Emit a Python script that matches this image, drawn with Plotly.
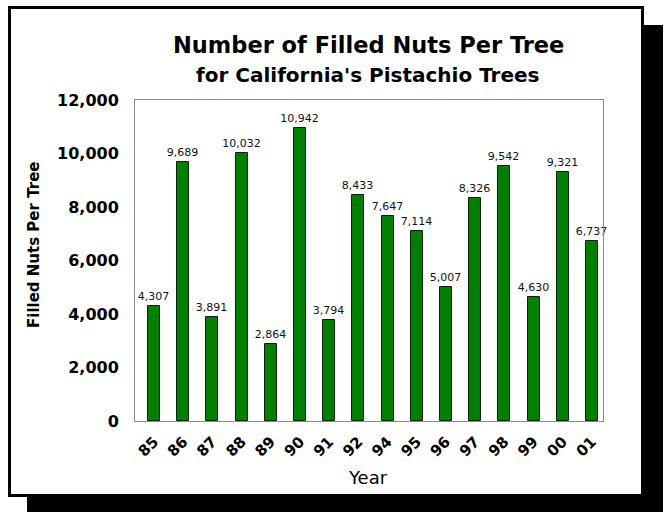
import plotly.graph_objects as go

years = ["85", "86", "87", "88", "89", "90", "91", "92", "94", "95", "96", "97", "98", "99", "00", "01"]
nuts = [4307, 9689, 3891, 10032, 2864, 10942, 3794, 8433, 7647, 7114, 5007, 8326, 9542, 4630, 9321, 6737]
y_ticks = [0, 2000, 4000, 6000, 8000, 10000, 12000]

W, H = 671, 512
L, R, T, B = 135, 603, 100, 421


def px(x):
    return (x - L) / (R - L)


def py(y):
    return (B - y) / (B - T)


pos = list(range(len(years)))

fig = go.Figure()
fig.add_trace(go.Bar(
    x=pos, y=nuts, width=0.41,
    marker=dict(color="#008000", line=dict(color="#0a200a", width=1)),
    texttemplate="%{y:,}", textposition="outside", cliponaxis=False,
    constraintext="none",
    textfont=dict(family="DejaVu Sans", size=11, color="#111"),
    hoverinfo="skip",
))

shapes = [
    dict(type="rect", xref="paper", yref="paper", layer="below",
         x0=px(27), x1=px(663), y0=py(25), y1=py(512),
         fillcolor="black", line=dict(width=0)),
    dict(type="rect", xref="paper", yref="paper", layer="below",
         x0=px(9.5), x1=px(642.5), y0=py(7.5), y1=py(495.5),
         fillcolor="white", line=dict(color="black", width=3)),
]

annotations = [
    dict(text="<b>Number of Filled Nuts Per Tree</b>", xref="paper", yref="paper",
         x=px(368), y=py(45), showarrow=False, xanchor="center", yanchor="middle",
         font=dict(family="DejaVu Sans", size=22.5, color="black")),
    dict(text="<b>for California's Pistachio Trees</b>", xref="paper", yref="paper",
         x=px(368), y=py(75), showarrow=False, xanchor="center", yanchor="middle",
         font=dict(family="DejaVu Sans", size=20, color="black")),
    dict(text="<b>Filled Nuts Per Tree</b>", xref="paper", yref="paper",
         x=px(34), y=py(245), showarrow=False, textangle=-90,
         xanchor="center", yanchor="middle",
         font=dict(family="DejaVu Sans", size=15, color="black")),
    dict(text="Year", xref="paper", yref="paper",
         x=px(368), y=py(478), showarrow=False, xanchor="center", yanchor="middle",
         font=dict(family="DejaVu Sans", size=18, color="black")),
]

fig.update_layout(
    width=W, height=H,
    margin=dict(l=L, r=W - R, t=T, b=H - B, pad=0),
    paper_bgcolor="white", plot_bgcolor="white",
    showlegend=False, shapes=shapes, annotations=annotations,
    bargap=0,
)
fig.update_xaxes(
    range=[-0.652, 15.38], tickvals=pos, ticktext=years, tickangle=-45,
    showgrid=False, zeroline=False, showline=True, mirror=True,
    linecolor="#8a8a8a", linewidth=1, ticks="",
    tickfont=dict(family="DejaVu Sans", size=15, color="black", weight="bold"),
    ticklabelstandoff=5, ticklabelshift=0,
)
fig.update_yaxes(
    range=[0, 12000], tickvals=y_ticks, tickformat=",",
    showgrid=False, zeroline=False, showline=True, mirror=True,
    linecolor="#8a8a8a", linewidth=1, ticks="",
    tickfont=dict(family="DejaVu Sans", size=16, color="black", weight="bold"),
    ticklabelstandoff=12,
)

fig.write_html("out.html", config={"displayModeBar": False},
               post_script="document.body.style.margin='0';")
